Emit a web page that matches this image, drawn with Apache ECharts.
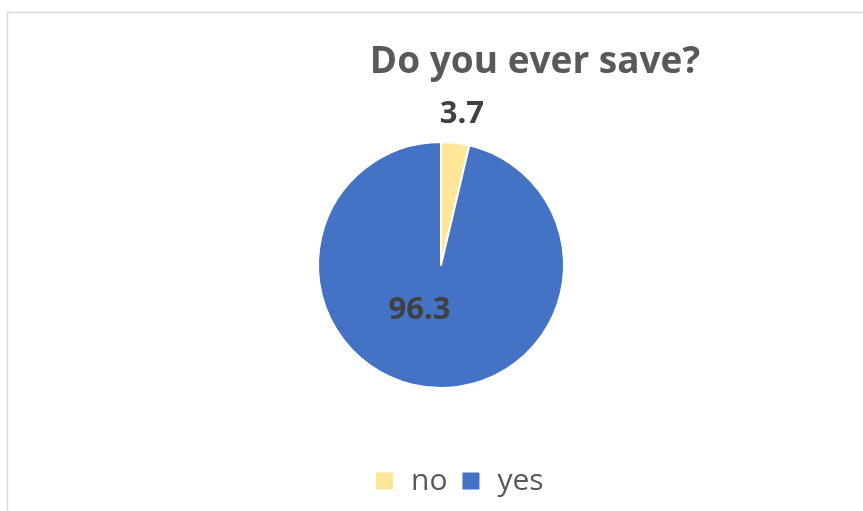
<!DOCTYPE html>
<html>
<head>
<meta charset="utf-8">
<style>
  html, body { margin: 0; padding: 0; background: #ffffff; }
  #chart { width: 863px; height: 511px; }
</style>
<script src="https://cdn.jsdelivr.net/npm/echarts@6/dist/echarts.min.js"></script>
</head>
<body>
<div id="chart"></div>
<script>
// Survey answers and their shares (percent)
const categories = ['no', 'yes'];
const shares = [3.7, 96.3];
const sliceColors = ['#FFE699', '#4472C4'];

const chart = echarts.init(document.getElementById('chart'));

const FONT = '"Open Sans", sans-serif';

// Nudge for each slice label, in pixels
const labelNudge = {
  no: { dx: -22, dy: -17 },
  yes: { dx: -14, dy: -19 }
};

chart.setOption({
  animation: false,
  title: {
    text: 'Do you ever save?',
    left: 530,
    top: 39,
    textAlign: 'center',
    textStyle: {
      fontFamily: FONT,
      fontWeight: 'bold',
      fontSize: 37,
      color: '#595959'
    }
  },
  legend: {
    data: categories,
    top: 466,
    left: 374,
    padding: 0,
    itemWidth: 19,
    itemHeight: 19,
    itemGap: 13,
    icon: 'rect',
    textStyle: {
      fontFamily: FONT,
      fontSize: 30,
      color: '#595959',
      padding: [0, 0, 0, 12]
    }
  },
  graphic: [
    {
      type: 'polyline',
      shape: { points: [[7.5, 511], [7.5, 12.5], [863, 12.5]] },
      style: { stroke: '#D9D9D9', lineWidth: 1.5, fill: null },
      silent: true
    }
  ],
  series: [
    {
      type: 'pie',
      center: [441, 265],
      radius: 123,
      startAngle: 90,
      clockwise: true,
      itemStyle: { borderColor: '#ffffff', borderWidth: 2 },
      labelLine: { show: false, length: 12, length2: 0 },
      labelLayout: function (params) {
        const n = labelNudge[categories[params.dataIndex]];
        return { dx: n.dx, dy: n.dy };
      },
      data: categories.map((name, i) => ({
        name: name,
        value: shares[i],
        itemStyle: { color: sliceColors[i] },
        label: {
          show: true,
          position: i === 0 ? 'outside' : 'inside',
          formatter: '{c}',
          fontFamily: FONT,
          fontWeight: 'bold',
          fontSize: 31,
          color: '#404040'
        }
      }))
    }
  ]
});
</script>
</body>
</html>
